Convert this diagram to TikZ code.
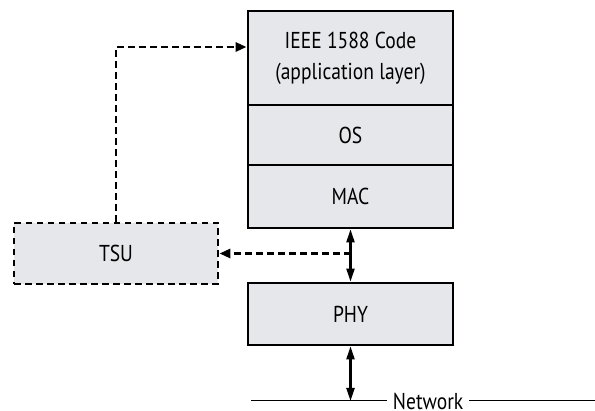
\documentclass[tikz,border=0pt]{standalone}
\usepackage{fontspec}
\setmainfont{PT Sans}[FakeStretch=0.85]
\usetikzlibrary{arrows.meta}
\definecolor{boxgray}{RGB}{230,231,235}
\begin{document}
\begin{tikzpicture}[x=1pt, y=1pt]
		\tikzset{blk/.style={rectangle, draw=black, line width=2.8pt, fill=boxgray, minimum width=205pt, inner sep=0pt, align=center, font=\fontsize{23}{31}\selectfont}};
		\tikzset{dsh/.style={line width=2.8pt, dash pattern=on 6.5pt off 4.5pt}};
		\tikzset{dbl/.style={line width=2.2pt, {Triangle[width=8pt, length=13pt]}-{Triangle[width=8pt, length=13pt]}}};

		\useasboundingbox (0,0) rectangle (595,-411);

		\node[blk, minimum height=94pt] (ieee) at (350.5,-58) {IEEE 1588 Code\\(application layer)};
		\node[blk, minimum height=60pt] (os) at (350.5,-135) {OS};
		\node[blk, minimum height=63pt] (mac) at (350.5,-196.5) {MAC};
		\node[blk, minimum height=62pt] (phy) at (350.5,-314) {PHY};
		\node[blk, dsh, minimum width=204pt, minimum height=61pt] (tsu) at (116,-253.5) {TSU};

		\coordinate (netl) at (251,-401);
		\coordinate (netr) at (595,-401);

		\draw[dbl] (mac.south) to (phy.north);
		\draw[dbl] (phy.south) to (phy.south |- netl);

		\draw[dsh, -{Triangle[width=9pt, length=11pt]}] (tsu.north) |- ([yshift=11pt]ieee.west);
		\draw[dsh, -{Triangle[width=9pt, length=11pt]}] (mac.south |- tsu.east) to (tsu.east);

		\draw[line width=1pt] (netl) -- node[pos=0.515, fill=white, inner xsep=6pt, inner ysep=2pt, font=\fontsize{23}{24}\selectfont] (net) {Network} (netr);
	\end{tikzpicture}
\end{document}
